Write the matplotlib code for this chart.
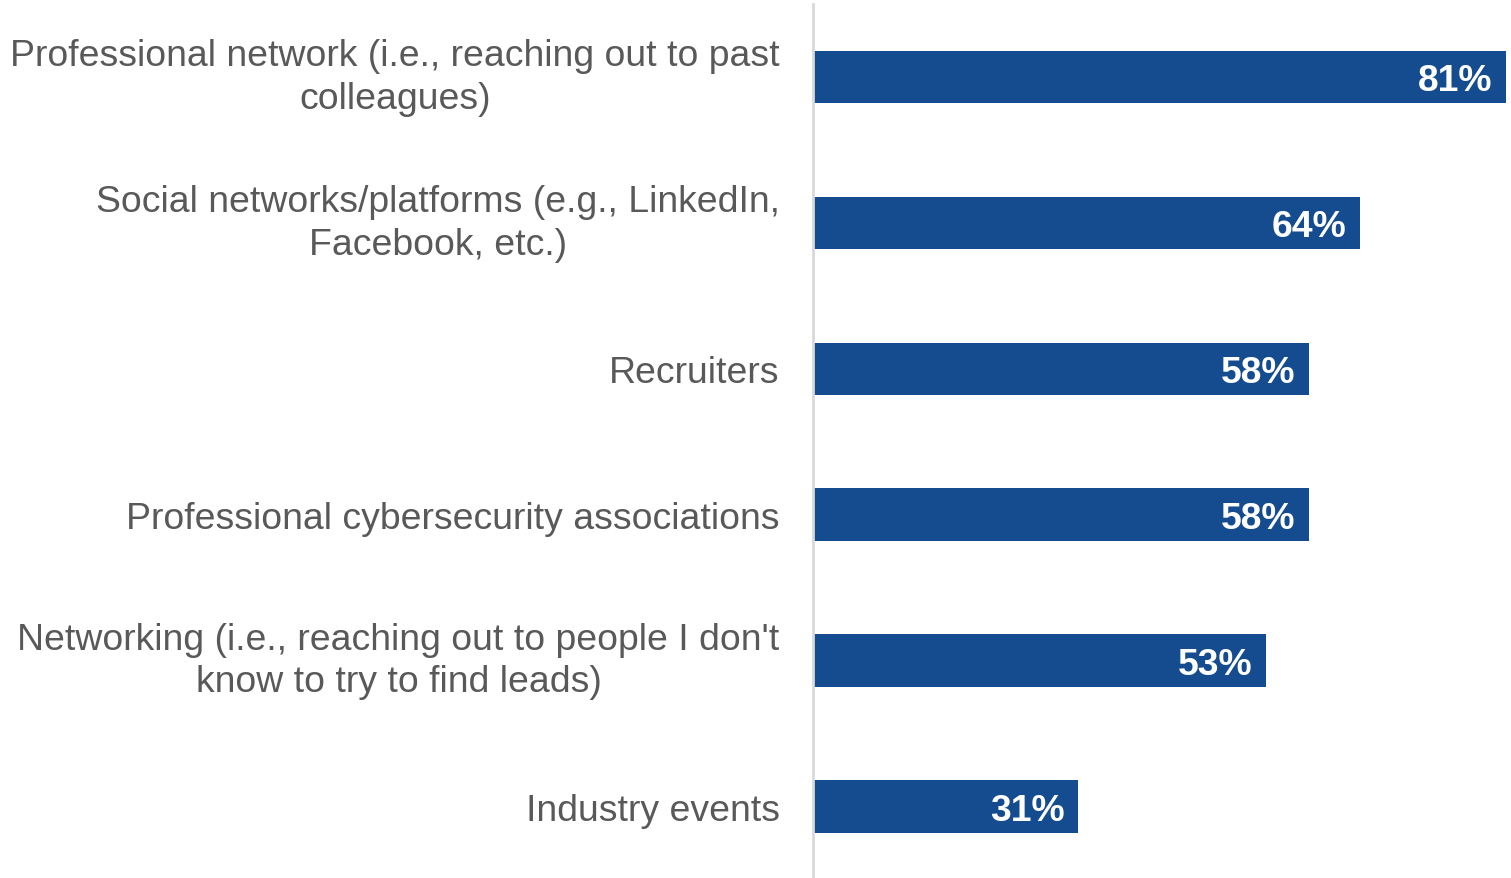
import matplotlib.pyplot as plt

plt.rcParams['font.family'] = ['Liberation Sans', 'DejaVu Sans']

categories = [
    'Professional network (i.e., reaching out to past\ncolleagues)',
    'Social networks/platforms (e.g., LinkedIn,\nFacebook, etc.)',
    'Recruiters',
    'Professional cybersecurity associations',
    "Networking (i.e., reaching out to people I don't\nknow to try to find leads)",
    'Industry events',
]
values = [81, 64, 58, 58, 53, 31]

BAR_COLOR = '#144c8f'
TEXT_COLOR = '#595959'

fig = plt.figure(figsize=(15.11, 8.79), dpi=100)
ax = fig.add_axes([813 / 1511, 0, 698 / 1511, 874 / 879])

y = list(range(len(categories)))
ax.barh(y, values, height=0.36, color=BAR_COLOR, left=0)

for yi, v in zip(y, values):
    ax.text(v - 1.6, yi, f'{v}%', ha='right', va='center_baseline',
            color='white', fontsize=26.8, fontweight='bold')

ax.set_xlim(0, 81.6)
ax.set_ylim(5.49, -0.5)
ax.set_yticks(y)
ax.set_yticklabels(categories, fontsize=26.9, color=TEXT_COLOR,
                   linespacing=1.27, va='center_baseline')
# center each multi-line label, but keep the block right-aligned to the axis
for lbl in ax.get_yticklabels():
    lbl.set_horizontalalignment('right')
    lbl.set_multialignment('center')
    if '\n' in lbl.get_text():
        lbl.set_verticalalignment('center')
ax.tick_params(axis='y', length=0, pad=24)
ax.set_xticks([])

for side in ['top', 'right', 'bottom']:
    ax.spines[side].set_visible(False)
ax.spines['left'].set_color('#d9d9d9')
ax.spines['left'].set_linewidth(2)

fig.savefig('out.png', dpi=100)
